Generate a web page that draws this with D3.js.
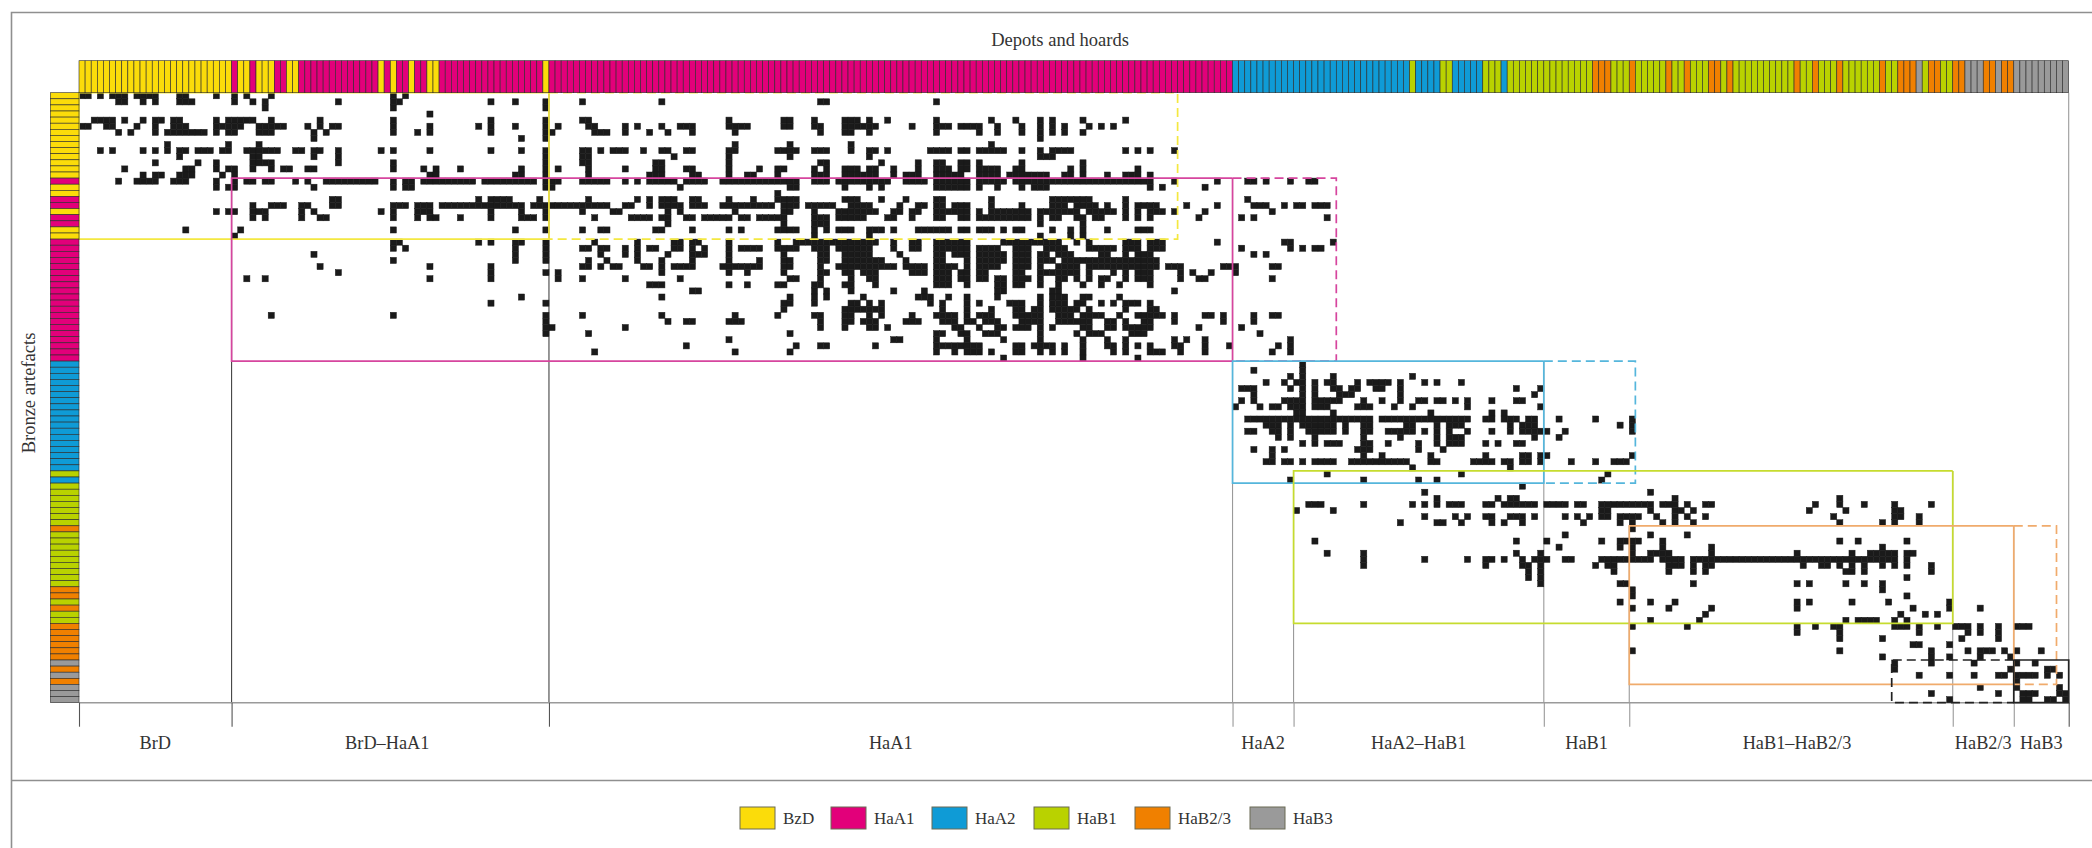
<!DOCTYPE html>
<html>
<head>
<meta charset="utf-8">
<title>Depots and hoards</title>
<script src="https://cdn.jsdelivr.net/npm/d3@7"></script>
<style>
  html, body { margin: 0; padding: 0; background: #fff; }
  text { font-family: "Liberation Serif", serif; fill: #333; }
</style>
</head>
<body>
<div id="chart"></div>
<script>
var svgW = 2092;
var svgH = 848;

var nCols = 326;
var nRows = 100;

var phases = ["BzD", "HaA1", "HaA2", "HaB1", "HaB2/3", "HaB3"];
var phaseColors = ["#fbdc0a", "#e2007a", "#0f9bd6", "#b9d200", "#f08000", "#9a9a9a"];

// top bar, one [phase index, number of columns] per run
var colPhaseRuns = [
  [0,25],[1,1],[0,2],[1,1],[0,3],[1,2],[0,2],[1,13],[0,1],[1,1],[0,1],[1,2],[0,1],[1,2],[0,2],
  [1,17],[0,1],[1,112],[2,29],[3,1],[2,4],[3,2],[2,5],[3,3],[2,1],[3,14],[4,3],[3,3],[4,1],[3,5],
  [4,1],[3,2],[4,1],[3,3],[4,2],[3,1],[4,1],[3,10],[4,1],[3,2],[4,1],[3,3],[4,1],[3,6],[4,1],
  [3,2],[4,3],[5,1],[3,1],[4,2],[3,2],[4,2],[5,3],[4,2],[5,1],[4,2],[5,9]
];

// left bar, same thing per row
var rowPhaseRuns = [
  [0,14],[1,1],[0,2],[1,2],[0,1],[1,2],[0,2],[1,20],[2,18],[3,1],[2,1],[3,7],[4,1],[3,9],[4,2],
  [3,1],[4,1],[3,2],[4,6],[5,1],[4,1],[5,1],[4,1],[5,3]
];

// filled cells per row, columns or column runs
var rowCells = [
  "0-1 3 5-7 9-12 16-17 22 25 27 31 51 53",
  "6-7 10 12 16-18 25 28 30 42 51-52 67 71 76 82 95 121-122 140",
  "30 51 76",
  "57",
  "2-5 7 10 12-13 15-16 22 24-28 31 39 51 67 76 82-83 106 115-116 120 125-127 129 132 140 149 153 157 159 164 171",
  "0-1 4-5 9 12 15-17 22-26 29-33 37 39 41-42 51 57 65 67 71 76 78 83-84 89 91 95 98-100 106-109 115-116 120-121 125-130 136 140-142 144-147 150 154 157 159 161 165 167 169",
  "6 8 12 14-20 22 24-25 29-31 38 40 51 55 57 67 76-77 84-86 89 93 96 100 107 121 125-126 129 140 147 150 154 157 159 161 164",
  "38 72 76 157",
  "14 24 29 107 116 126 149",
  "3 5 10 12 14 16-17 19-21 23-24 27-32 35-36 38-39 42 49 51 57 67 72 76 82-83 85 87-89 92 95-96 99-100 106-107 114-117 120-122 126 129-130 132 139-142 144-145 147-151 154 157 159-162 171 173 175 179",
  "16 28-29 38 42 76 82-83 97 106 116 129 157-159",
  "12 19 22 28-31 42 51 76 82-83 94-95 106 121-122 131 137 140-141 144-145 147 154 164",
  "7 17-18 22 24-25 28 31 33-34 37-38 51 56 58 62 72 76 78 83 89 94-95 99-100 106 111 114-115 120 122 125-127 129-130 133 137 140-142 144-145 147-150 153-154 162 164 173",
  "10 12-13 16-18 23 25 57-58 71-72 76 83 93-95 100-101 106 109-110 114 120-122 125-130 133 135-137 140-144 147-150 152-158 161-162 164 168 171-173 175",
  "6 9-12 15-17 22 25 27-28 30-31 35 37 40-48 51 53-54 56-64 66-74 76-78 82-86 89 91 93-97 99-102 105-117 120-122 124-132 135-138 140-145 147-151 153-175 179 186 191-192 194 198 201-202",
  "22 24-25 38 51 53-54 76-77 98 116-117 125 129 131 140-145 147 150 154 156-158 175 177 184",
  "114",
  "41-42 65 67-70 75 83 91 93 95-97 100-101 106 110 114-117 125-127 131 135 140-141 149 159-165 171 191",
  "28 31-33 36-37 41-42 51-53 55-57 59-72 74-86 89-90 93 95-98 100-102 105-113 115-117 119-123 126-129 134 137-138 140-141 143-145 149 154 159-161 163-166 168 171 173-176 181 186 192-194 197 199-200 202-204",
  "22 24-25 28-30 36 38 49 51 55-57 67 72 76 82 87-88 96 98 107 115-116 120 124-130 133-134 136-137 140-145 147 149-155 157-163 165-169 171 173 175-177 179 184 195",
  "28 30 36 39-40 51 55 57-58 62 67 72-74 76 84 90-93 95-96 99-100 102-106 108-109 111-115 120-122 124-128 132-133 136 140-141 144-145 147-155 157 159-160 163-164 166-167 171 173 175 183 190 192 204",
  "96 115 120-122 157 164",
  "17 26 51 71 76 82 85-86 94-95 100 106 108 114-117 120 122 124-126 129-131 133 137-142 144-145 147-149 151 153-154 159 162 164 168 173-175",
  "25 120 129 157 162 164",
  "51-52 65 67 71-72 76 84 91 97-98 100-101 106 114 117-130 133 136-137 140-145 151-160 163 165 171-173 175-177 186 197-198 205",
  "51 53 71 76 82-83 85-86 89 91 93-94 97-98 100 102 106 108-111 114-117 120-122 124-129 133 136-137 140-145 147-150 153-155 158-161 165-169 171-173 175-177 190 198 200 202-203",
  "38 71 76 85 89 91 96 100-102 106 115 121-122 125-129 134 140-141 143-145 147-151 153-155 157-158 160-162 167-168 171 173-175 192 194",
  "51 71 76 83 86 91 95 100 106 111 115-116 121-122 125-131 135 140-141 145 147-151 153-155 157-159 161-176",
  "39 57 67 82-83 85 87-88 92-93 95 97-100 105-111 115-116 121 124-133 135-138 140-143 145 147-150 153-155 157 160-163 165-176 178-180 187-189 195-196",
  "42 67 76 78 95 106 109 115 121-122 125-126 128-130 136-138 140-142 144-145 147-148 153-154 157-163 165 169 171 173-175 180 182 185 189",
  "27 30 57 67 78 82 89 98 116-117 121 126 129-130 140-142 144-145 147-148 150-151 153-155 157 160-161 163 165 167-168 171 173-175 180 183-184 195",
  "93-95 106 109 114-115 120-121 125-126 130 140-142 145 150-151 153-154 157 160 164 167 170 175",
  "100-101 120 122 126 133 138 150-151 159-160 179",
  "72 95 116 120 122 128 137-139 142 145 150 157 159-161 164-165 170",
  "67 76 115-116 120 126-127 129 131 139 141 145 147 152-154 157 159-161 163-164 167 169 171-173 175",
  "115 125-131 141 145 149 153-154 156-157 159-163 165 171 175-176",
  "31 51 76 82 95 107 114 120-121 125-126 129 131 136 140-143 145 147-149 153-157 160-162 164-167 170 173-177 179 184-185 187 192 195-196",
  "76 96 99-100 106-108 121 125-126 128-130 135-137 141-143 145-146 148-150 154-157 160-165 168-169 171 174-175 179 187 192",
  "76-77 89 121 125 129-130 132 143-144 147 150-151 153-155 157 159 164-165 168-169 171-175 183 190",
  "76 83 116 140-141 144-145 148-150 157 163 165-167 172-174 193",
  "106 133-134 140 145 151 157 164 168 171 179 181 184 198",
  "99 117 121-122 130 140-147 153-154 156-159 161 164 168-169 171 173 175 179-180 184 188 196 198",
  "84 107 116 140 143 145-147 149 153-154 157 159 161 164 169 171 175-177 180 184 195 198",
  "151 164 173",
  "200",
  "192 200",
  "198 200 205 218",
  "194 197 199-200 202 204-205 209 211-214 216 220 222 226",
  "190-192 198 200 202 205-206 208-209 212-213 216 235 239",
  "192 200 202 206-208 216 238",
  "190 192 197-200 202-206 210 213 216 219-220 222-223 225 227 231 235-236",
  "189 193 195-196 198-200 202-204 209-211 215 218 227 239",
  "199-200 205 221 231 233",
  "191-211 213-227 230-231 233-235 237-238 242 248 254",
  "194-196 198 200-205 207 210-211 217-218 222 224-226 234 236-238 252 254",
  "191-192 195-196 198 201-205 207 210-211 214-218 220 222 224 227 231 234 236-240 243 254",
  "196 198 202 210 216 222 224-226 238 242",
  "200 202 204-206 210-211 214 219 222 224-226 230 232 235-236",
  "192 195 197 209-211 219 223",
  "195 210 213 221 230 236-237 239-240 254",
  "194-195 197-198 200 202-205 208-217 221-222 228-231 233-234 236-237 239 244 248 251-253",
  "218 234",
  "204 226 250",
  "198 210 219 222 249",
  "236",
  "220 257",
  "222 232 234-235 261 288",
  "201-203 210 218 220 222 224-226 230-231 233-238 240-243 245-246 249-257 259-261 263 266-267 284 288 292 297 303",
  "199 205 249-250 257 261-262 264 283 289 297-298",
  "220 225 227 230-231 234-236 238 243 245 247 249-250 252-255 258 261 263 266 287 297-298 301",
  "216 222-223 226 231 233 236 246 252 254 259 261 264 288 295 297 301",
  "254",
  "243 257 263",
  "202 235 240 249 252-255 259 288 291 299",
  "242 252 254 259 267 295",
  "204 210 235 239 254 257-260 267 281 290 293-297 299-300",
  "210 220 227 230-231 233 236 238-240 243-244 249-257 259-262 264-292 293-297 299",
  "210 230 236-237 239 248 250-251 260-262 264 266-267 282 285-286 288 290 292 295 297 299 303",
  "237 239 251 260 264 266 289-290 292 303",
  "237 239 299",
  "239 252-253 264 281 283 289 292 295",
  "254 295",
  "254 299",
  "252 257 261 281 283 290 296 306",
  "254 260 267 281 300 306 311",
  "266 298 302 304",
  "257 265 289 291-294 297 299",
  "254 263 281 284 287-288 297-299 301 304 307-309 311 314 317-319",
  "281 288 301 309 311 314",
  "288 295 308 314",
  "300-301 306",
  "254 288 303 309 311-313 315 317 321",
  "295 303 306 311 316",
  "297 303 310 317 320",
  "297 316 322-323",
  "301 306 310 314-315 317-320 322 324",
  "317",
  "311 317 324",
  "303 314 318-320 324-325",
  "306 318-319 322-323 325"
];

// periods along the bottom, boundaries in columns
var periodNames = ["BrD", "BrD\u2013HaA1", "HaA1", "HaA2", "HaA2\u2013HaB1", "HaB1", "HaB1\u2013HaB2/3", "HaB2/3", "HaB3"];
var periodEdges = [0, 25, 77, 189, 199, 240, 254, 307, 317, 326];
var edgeTopRows = [null, 14, 0, 14, 62, 44, 71, 62, 71, 0];

// phase boxes: columns, rows, and where the solid part stops
var boxCol0 = [0, 25, 189, 199, 254, 297];
var boxCol1 = [180, 206, 255, 307, 324, 326];
var boxSolidTo = [77, 189, 240, 307, 317, 317];
var boxRow0 = [0, 14, 44, 62, 71, 93];
var boxRow1 = [24, 44, 64, 87, 97, 100];
var boxColors = ["#f4e840", "#d6459e", "#55b6dc", "#c6dc2e", "#f0ab6c", "#222"];

var x = d3.scaleLinear().domain([0, nCols]).range([79, 2068.7]);
var y = d3.scaleLinear().domain([0, nRows]).range([92.7, 702.7]);
var cellW = x(1) - x(0);
var cellH = y(1) - y(0);

function expandRuns(runs) {
  var out = [];
  runs.forEach(r => d3.range(r[1]).forEach(() => out.push(r[0])));
  return out;
}

var colPhase = expandRuns(colPhaseRuns);
var rowPhase = expandRuns(rowPhaseRuns);

var cells = [];
rowCells.forEach((s, r) => {
  s.split(" ").forEach(part => {
    var p = part.split("-").map(Number);
    var last = p.length > 1 ? p[1] : p[0];
    for (var c = p[0]; c <= last; c++) cells.push({row: r, col: c});
  });
});

var svg = d3.select("#chart")
            .append("svg")
            .attr("width", svgW)
            .attr("height", svgH)
            .style("display", "block");

// outer frame, open to the right and bottom
svg.append("path")
   .attr("d", "M2092,12.5H11.5V848M11.5,780.5H2092")
   .attr("fill", "none")
   .attr("stroke", "#8f8f8f")
   .attr("stroke-width", 1.6);

// period lines
svg.append("g")
   .selectAll("line")
   .data(periodEdges.filter((d, i) => edgeTopRows[i] !== null))
   .enter()
   .append("line")
   .attr("x1", d => x(d))
   .attr("x2", d => x(d))
   .attr("y1", d => y(edgeTopRows[periodEdges.indexOf(d)]))
   .attr("y2", y(nRows))
   .attr("stroke", d => (d == 25 || d == 77) ? "#444" : "#9a9a9a")
   .attr("stroke-width", 1.1);

// baseline
svg.append("line")
   .attr("x1", x(0)).attr("x2", x(nCols))
   .attr("y1", y(nRows)).attr("y2", y(nRows))
   .attr("stroke", "#9a9a9a")
   .attr("stroke-width", 1.4);

var bottomAxis = d3.axisBottom(x)
                   .tickValues(periodEdges)
                   .tickSize(24)
                   .tickFormat("");
var axisG = svg.append("g")
               .attr("transform", `translate(0, ${y(nRows)})`)
               .call(bottomAxis);
axisG.select(".domain").remove();
axisG.selectAll("line")
     .attr("stroke", d => (d == 0 || d == 25 || d == 77 || d == 326) ? "#555" : "#999")
     .attr("stroke-width", 1.1);

svg.append("g")
   .selectAll("text")
   .data(periodNames)
   .enter()
   .append("text")
   .attr("x", (d, i) => x((periodEdges[i] + periodEdges[i + 1]) / 2))
   .attr("dx", d => d == "HaB1\u2013HaB2/3" ? 6 : (d == "BrD\u2013HaA1" ? -3 : 0))
   .attr("y", 749)
   .attr("text-anchor", "middle")
   .attr("font-size", 18.3)
   .text(d => d);

// presence cells, small stroke so neighbours join up
svg.append("g")
   .selectAll("rect")
   .data(cells)
   .enter()
   .append("rect")
   .attr("x", d => x(d.col))
   .attr("y", d => y(d.row))
   .attr("width", cellW)
   .attr("height", cellH)
   .attr("fill", "#1a1a1a")
   .attr("stroke", "#1a1a1a")
   .attr("stroke-width", 0.5);

// boxes on top of the cells: solid part then dashed part
var boxG = svg.append("g").attr("fill", "none").attr("stroke-width", 1.7);
boxColors.forEach((color, i) => {
  var xa = x(boxCol0[i]), xs = x(boxSolidTo[i]), xb = x(boxCol1[i]);
  var ya = y(boxRow0[i]), yb = y(boxRow1[i]);
  var lastBox = i == boxColors.length - 1;
  // the last box is dashed up to the solid end, the others the other way round
  var solid = lastBox
    ? `M${xs},${ya}H${xb}V${yb}H${xs}V${ya}`
    : `M${xs},${ya}H${xa}V${yb}H${xs}V${ya}`;
  var dashed = lastBox
    ? `M${xs},${ya}H${xa}V${yb}H${xs}`
    : `M${xs},${ya}H${xb}V${yb}H${xs}`;
  boxG.append("path").attr("d", solid).attr("stroke", color);
  if (xs != xb) {
    boxG.append("path").attr("d", dashed).attr("stroke", color).attr("stroke-dasharray", "9 5");
  }
});

// phase bars
var barLine = "#2b2b2b";
svg.append("g")
   .selectAll("rect")
   .data(colPhase)
   .enter()
   .append("rect")
   .attr("x", (d, i) => x(i))
   .attr("y", 60.7)
   .attr("width", cellW)
   .attr("height", y(0) - 60.7)
   .attr("fill", d => phaseColors[d])
   .attr("stroke", barLine)
   .attr("stroke-width", 0.6);

svg.append("g")
   .selectAll("rect")
   .data(rowPhase)
   .enter()
   .append("rect")
   .attr("x", 50.4)
   .attr("y", (d, i) => y(i))
   .attr("width", x(0) - 50.4)
   .attr("height", cellH)
   .attr("fill", d => phaseColors[d])
   .attr("stroke", barLine)
   .attr("stroke-width", 0.6);

// titles
svg.append("text")
   .attr("x", 1060)
   .attr("y", 46)
   .attr("text-anchor", "middle")
   .attr("font-size", 18.5)
   .text("Depots and hoards");

svg.append("text")
   .attr("transform", "translate(35, 393) rotate(-90)")
   .attr("text-anchor", "middle")
   .attr("font-size", 18.5)
   .text("Bronze artefacts");

// legend
var legendOffsets = [0, 91, 192, 294, 395, 510];
var legend = svg.append("g")
                .selectAll("g")
                .data(phases)
                .enter()
                .append("g")
                .attr("transform", (d, i) => `translate(${740 + legendOffsets[i]}, 807)`);

legend.append("rect")
      .attr("width", 35)
      .attr("height", 22)
      .attr("fill", (d, i) => phaseColors[i])
      .attr("stroke", "#6b6b55")
      .attr("stroke-width", 1);

legend.append("text")
      .attr("x", 43)
      .attr("y", 17)
      .attr("font-size", 17)
      .text(d => d);
</script>
</body>
</html>
